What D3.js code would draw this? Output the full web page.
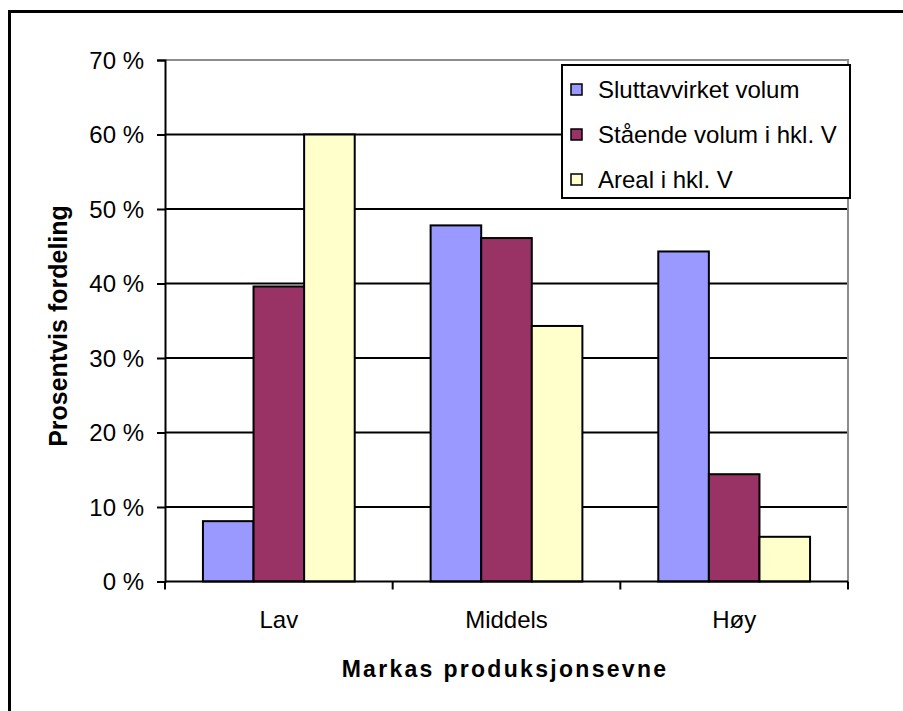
<!DOCTYPE html>
<html>
<head>
<meta charset="utf-8">
<script src="https://cdn.jsdelivr.net/npm/d3@7"></script>
<style>
  html, body { margin: 0; padding: 0; background: #fff; }
  svg text { font-family: Arial, "Liberation Sans", sans-serif; fill: #000; }
</style>
</head>
<body>
<svg id="chart" width="903" height="711"></svg>
<script>
// Distribution by site productivity class (percent)
const categories = ["Lav", "Middels", "Høy"];
const seriesNames = ["Sluttavvirket volum", "Stående volum i hkl. V", "Areal i hkl. V"];
const sluttavvirket = [8.1, 47.8, 44.3];
const staaende = [39.6, 46.1, 14.4];
const areal = [60.0, 34.3, 6.0];
const yTicks = [0, 10, 20, 30, 40, 50, 60, 70];
const yTitle = "Prosentvis fordeling";
const xTitle = "Markas produksjonsevne";

const seriesValues = [sluttavvirket, staaende, areal];
const colors = ["#9999ff", "#993366", "#ffffcc"];

const svg = d3.select("#chart");
const plot = { left: 165, right: 848, top: 60, bottom: 581.5 };

// outer chart frame (left and top edges)
svg.append("path")
  .attr("d", `M9.5,711 V11.5 H903`)
  .attr("fill", "none").attr("stroke", "#000").attr("stroke-width", 3);

const y = d3.scaleLinear().domain([0, 70]).range([plot.bottom, plot.top]);
const x = d3.scaleBand().domain(categories).range([plot.left, plot.right]).padding(0);
// Excel-style gap width of 150%: bar width = band / (n + 1.5)
const barW = x.bandwidth() / (seriesNames.length + 1.5);
const groupOffset = (x.bandwidth() - barW * seriesNames.length) / 2;
const xs = d3.scaleBand().domain(d3.range(seriesNames.length))
  .range([groupOffset, groupOffset + barW * seriesNames.length]).padding(0);

// horizontal gridlines
svg.append("g").selectAll("line")
  .data(yTicks.filter(t => t > 0 && t < 70))
  .join("line")
  .attr("x1", plot.left).attr("x2", plot.right)
  .attr("y1", d => y(d)).attr("y2", d => y(d))
  .attr("stroke", "#000").attr("stroke-width", 2);

// plot area border (top and right, grey)
svg.append("path")
  .attr("d", `M${plot.left},${y(70)} H${plot.right} V${plot.bottom}`)
  .attr("fill", "none").attr("stroke", "#8c8c8c").attr("stroke-width", 2);

// bars
const groups = svg.append("g").selectAll("g")
  .data(categories)
  .join("g")
  .attr("transform", d => `translate(${x(d)},0)`);

groups.selectAll("rect")
  .data((c, ci) => seriesValues.map((vals, si) => ({ si, v: vals[ci] })))
  .join("rect")
  .attr("x", d => xs(d.si))
  .attr("width", xs.bandwidth())
  .attr("y", d => y(d.v))
  .attr("height", d => y(0) - y(d.v))
  .attr("fill", d => colors[d.si])
  .attr("stroke", "#000").attr("stroke-width", 2);

// y axis
const yAxis = svg.append("g")
  .attr("transform", `translate(${plot.left},0)`)
  .call(d3.axisLeft(y).tickValues(yTicks).tickSize(8).tickPadding(13)
    .tickFormat(d => d + " %"));
yAxis.select(".domain").attr("stroke", "#000").attr("stroke-width", 2);
yAxis.selectAll(".tick line").attr("stroke", "#000").attr("stroke-width", 2);
yAxis.selectAll(".tick text")
  .attr("font-size", 24).attr("dy", "0.35em")
  .style("font-family", 'Arial, "Liberation Sans", sans-serif');

// x axis: ticks at category boundaries, labels centred in each band
const xAxis = svg.append("g").attr("transform", `translate(0,${plot.bottom})`);
xAxis.append("line")
  .attr("x1", plot.left).attr("x2", plot.right)
  .attr("stroke", "#000").attr("stroke-width", 2);
const boundaries = categories.map(c => x(c)).concat([plot.right]);
xAxis.selectAll(".btick").data(boundaries).join("line")
  .attr("class", "btick")
  .attr("x1", d => d).attr("x2", d => d)
  .attr("y1", 0).attr("y2", 8)
  .attr("stroke", "#000").attr("stroke-width", 2);
xAxis.selectAll(".clabel").data(categories).join("text")
  .attr("class", "clabel")
  .attr("x", d => x(d) + x.bandwidth() / 2)
  .attr("y", 46.5)
  .attr("text-anchor", "middle")
  .attr("font-size", 24)
  .text(d => d);

// axis titles
svg.append("text")
  .attr("transform", `translate(67,326) rotate(-90)`)
  .attr("text-anchor", "middle")
  .attr("font-size", 25).attr("font-weight", "bold")
  .text(yTitle);

svg.append("text")
  .attr("x", 505).attr("y", 677)
  .attr("text-anchor", "middle")
  .attr("font-size", 23).attr("font-weight", "bold")
  .attr("letter-spacing", 2.3)
  .text(xTitle);

// legend
const legend = svg.append("g").attr("transform", "translate(562,65)");
legend.append("rect")
  .attr("width", 288).attr("height", 133)
  .attr("fill", "#fff").attr("stroke", "#000").attr("stroke-width", 2);
const items = legend.selectAll(".item").data(seriesNames).join("g")
  .attr("class", "item")
  .attr("transform", (d, i) => `translate(0,${33 + i * 45})`);
items.append("rect")
  .attr("x", 9).attr("y", -14)
  .attr("width", 11).attr("height", 11)
  .attr("fill", (d, i) => colors[i])
  .attr("stroke", "#000").attr("stroke-width", 1.5);
items.append("text")
  .attr("x", 36).attr("y", 0)
  .attr("font-size", 24)
  .text(d => d);
</script>
</body>
</html>
